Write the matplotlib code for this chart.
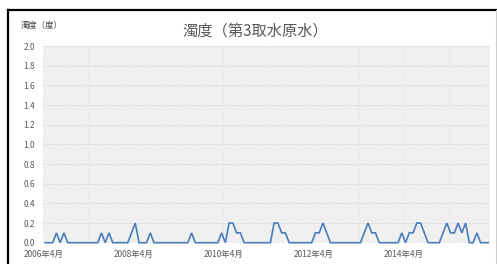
#!/usr/bin/env python3
import matplotlib
matplotlib.use("Agg")
import matplotlib.pyplot as plt
from matplotlib.lines import Line2D

plt.rcParams["font.family"] = ["Noto Sans CJK JP", "DejaVu Sans"]
plt.rcParams["hatch.color"] = "#e4e4e4"
plt.rcParams["hatch.linewidth"] = 0.4

TITLE = "濁度（第3取水原水）"
UNIT_LABEL = "濁度（度）"

# monthly turbidity, 2006-04 .. 2016-02
turbidity = [
    0, 0, 0, 0.1, 0, 0.1, 0, 0, 0, 0, 0, 0,            # 2006-04..
    0, 0, 0, 0.1, 0, 0.1, 0, 0, 0, 0, 0, 0.1,          # 2007-04..
    0.2, 0, 0, 0, 0.1, 0, 0, 0, 0, 0, 0, 0,            # 2008-04..
    0, 0, 0, 0.1, 0, 0, 0, 0, 0, 0, 0, 0.1,            # 2009-04..
    0, 0.2, 0.2, 0.1, 0.1, 0, 0, 0, 0, 0, 0, 0,        # 2010-04..
    0, 0.2, 0.2, 0.1, 0.1, 0, 0, 0, 0, 0, 0, 0,        # 2011-04..
    0.1, 0.1, 0.2, 0.1, 0, 0, 0, 0, 0, 0, 0, 0,        # 2012-04..
    0, 0.1, 0.2, 0.1, 0.1, 0, 0, 0, 0, 0, 0, 0.1,      # 2013-04..
    0, 0.1, 0.1, 0.2, 0.2, 0.1, 0, 0, 0, 0, 0.1, 0.2,  # 2014-04..
    0.1, 0.1, 0.2, 0.1, 0.2, 0, 0, 0.1, 0, 0, 0,       # 2015-04..2016-02
]

x_tick_labels = ["2006年4月", "2008年4月", "2010年4月", "2012年4月", "2014年4月"]
x_tick_months = [0, 24, 48, 72, 96]
y_ticks = [0.0, 0.2, 0.4, 0.6, 0.8, 1.0, 1.2, 1.4, 1.6, 1.8, 2.0]

LINE_COLOR = "#4a7ebb"
TEXT_COLOR = "#595959"

W, H = 497, 264
fig = plt.figure(figsize=(W / 100, H / 100), dpi=100)
fig.patch.set_facecolor("white")

ax = fig.add_axes([43.3 / W, 1 - 242.7 / H, (490 - 43.3) / W, (242.7 - 46) / H])
ax.patch.set_facecolor("#f4f4f4")
ax.patch.set_hatch("\\\\\\\\\\\\\\\\\\\\")
ax.patch.set_edgecolor("#e4e4e4")
ax.patch.set_linewidth(0)

n = len(turbidity)
ax.plot(range(n), turbidity, color=LINE_COLOR, linewidth=1.2, clip_on=False,
        solid_joinstyle="miter", zorder=3)

ax.set_xlim(-0.5, n - 0.5)
ax.set_ylim(0, 2.0)

ax.set_yticks(y_ticks)
ax.set_yticklabels([f"{v:.1f}" for v in y_ticks])
ax.set_xticks([m - 0.5 for m in x_tick_months])
ax.set_xticklabels(x_tick_labels)
ax.tick_params(axis="both", length=0, labelsize=6, labelcolor=TEXT_COLOR)
ax.tick_params(axis="y", pad=6)
ax.tick_params(axis="x", pad=5)

for y in y_ticks[1:]:
    ax.axhline(y, color="#dedede", linewidth=0.5, zorder=1)
for m in range(12, n, 12):
    ax.axvline(m - 0.5, color="#e8e8e8", linewidth=0.5, zorder=1)

for s in ax.spines.values():
    s.set_visible(False)

fig.text(255 / W, 1 - 31 / H, TITLE, ha="center", va="center",
         fontsize=11, color=TEXT_COLOR)
fig.text(21 / W, 1 - 25 / H, UNIT_LABEL, ha="left", va="center",
         fontsize=6, color="#404040")

# outer frame from the screenshot
fig.add_artist(Line2D([8 / W, 8 / W], [0, 1 - 9.5 / H], color="black",
                      linewidth=1.6, transform=fig.transFigure))
fig.add_artist(Line2D([8 / W, 1], [1 - 9.5 / H, 1 - 9.5 / H], color="black",
                      linewidth=1.6, transform=fig.transFigure))
fig.add_artist(Line2D([496 / W, 496 / W], [0, 1 - 9.5 / H], color="#cfcfcf",
                      linewidth=0.8, transform=fig.transFigure))

fig.savefig("out.png", dpi=100)
plt.close(fig)
